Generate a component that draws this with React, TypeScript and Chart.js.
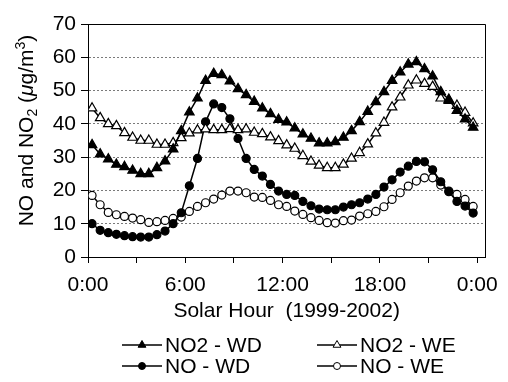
import React, { useEffect, useRef } from "react";
import { Chart, registerables } from "chart.js";

Chart.register(...registerables);

// Solar hour of each half-hourly mean (plotted at the middle of each 30-min slot)
const solarHours = [
  0.25, 0.75, 1.25, 1.75, 2.25, 2.75, 3.25, 3.75, 4.25, 4.75, 5.25, 5.75,
  6.25, 6.75, 7.25, 7.75, 8.25, 8.75, 9.25, 9.75, 10.25, 10.75, 11.25, 11.75,
  12.25, 12.75, 13.25, 13.75, 14.25, 14.75, 15.25, 15.75, 16.25, 16.75, 17.25, 17.75,
  18.25, 18.75, 19.25, 19.75, 20.25, 20.75, 21.25, 21.75, 22.25, 22.75, 23.25, 23.75,
];

const no2Weekday = [
  33.7, 30.9, 29.4, 27.8, 27.1, 26.0, 25.0, 25.0, 26.8, 28.8, 32.4, 37.9,
  43.5, 47.7, 53.0, 55.1, 54.7, 52.8, 50.5, 48.7, 46.7, 44.7, 43.0, 41.3,
  40.5, 38.7, 36.9, 35.6, 34.2, 34.2, 34.6, 35.9, 37.9, 40.6, 43.7, 46.6,
  49.6, 53.0, 55.5, 57.9, 58.6, 56.5, 54.3, 49.6, 47.3, 44.0, 41.4, 38.9,
];

const no2Weekend = [
  44.7, 41.8, 40.0, 39.4, 37.3, 35.9, 35.0, 35.0, 33.8, 33.8, 34.3, 35.8,
  37.2, 38.1, 38.4, 38.2, 38.2, 38.5, 38.2, 38.4, 37.4, 37.0, 36.0, 34.9,
  33.6, 32.6, 30.4, 28.7, 27.5, 26.8, 26.8, 27.8, 29.6, 31.3, 33.9, 37.2,
  40.4, 45.0, 48.0, 51.6, 53.1, 52.1, 51.2, 47.7, 47.0, 45.5, 43.4, 40.2,
];

const noWeekday = [
  10.0, 8.0, 7.3, 6.8, 6.4, 6.1, 6.0, 6.0, 6.7, 7.8, 10.0, 13.3,
  21.4, 29.6, 40.6, 46.0, 44.9, 41.5, 35.6, 29.6, 26.3, 24.3, 21.8, 19.8,
  18.8, 18.5, 16.7, 15.4, 14.4, 14.2, 14.2, 15.0, 15.7, 16.3, 17.4, 18.8,
  21.0, 23.2, 25.5, 27.3, 28.7, 28.6, 26.2, 22.6, 19.6, 16.7, 15.3, 13.2,
];

const noWeekend = [
  18.5, 15.7, 13.4, 12.7, 12.2, 11.7, 11.2, 10.4, 10.6, 11.0, 11.6, 12.0,
  13.7, 15.2, 16.3, 17.4, 18.6, 19.8, 19.8, 19.3, 18.0, 17.9, 17.0, 15.7,
  15.2, 13.8, 12.8, 11.8, 11.0, 10.3, 10.2, 10.9, 11.1, 12.3, 13.0, 13.7,
  15.1, 17.3, 19.3, 21.3, 22.8, 23.8, 23.8, 21.6, 19.8, 18.8, 17.3, 15.2,
];

const seriesNames = ["NO2 - WD", "NO2 - WE", "NO - WD", "NO - WE"];
const xTickHours = [0, 3, 6, 9, 12, 15, 18, 21, 24];
const xTickLabels = ["0:00", "", "6:00", "", "12:00", "", "18:00", "", "0:00"];
const yMin = 0;
const yMax = 70;
const yStep = 10;
const xTitle = "Solar Hour  (1999-2002)";

const FONT = '"Liberation Sans", Arial, Helvetica, sans-serif';
const FS = 21;

function drawMarker(ctx: CanvasRenderingContext2D, style: string, filled: boolean, x: number, y: number, r: number) {
  ctx.beginPath();
  if (style === "triangle") {
    const h = r * 1.5;
    const w = (r * Math.sqrt(3)) / 2;
    ctx.moveTo(x, y - r);
    ctx.lineTo(x + w, y - r + h);
    ctx.lineTo(x - w, y - r + h);
    ctx.closePath();
  } else {
    ctx.arc(x, y, r, 0, Math.PI * 2);
  }
  ctx.fillStyle = filled ? "#000" : "#fff";
  ctx.fill();
  ctx.lineWidth = 1;
  ctx.strokeStyle = "#000";
  ctx.stroke();
}

export default function App() {
  const ref = useRef<HTMLCanvasElement>(null);

  useEffect(() => {
    if (!ref.current) return;
    const toPts = (vals: number[]) => vals.map((y, i) => ({ x: solarHours[i], y }));
    const styles = [
      { pt: "triangle", filled: true },
      { pt: "triangle", filled: false },
      { pt: "circle", filled: true },
      { pt: "circle", filled: false },
    ];
    const seriesValues = [no2Weekday, no2Weekend, noWeekday, noWeekend];

    const datasets = seriesValues.map((vals, i) => ({
      label: seriesNames[i],
      data: toPts(vals),
      borderColor: "#000",
      borderWidth: 1.5,
      pointStyle: styles[i].pt,
      pointRadius: styles[i].pt === "triangle" ? 5.5 : 4,
      pointBackgroundColor: styles[i].filled ? "#000" : "#fff",
      pointBorderColor: "#000",
      pointBorderWidth: 1.2,
      tension: 0,
      fill: false,
    }));

    const framePlugin = {
      id: "frame",
      beforeDatasetsDraw(chart: any) {
        const { ctx, chartArea: a } = chart;
        ctx.save();
        ctx.strokeStyle = "#000";
        ctx.lineWidth = 1;
        ctx.beginPath();
        ctx.moveTo(a.left, Math.round(a.top) + 0.5);
        ctx.lineTo(Math.round(a.right) + 0.5, Math.round(a.top) + 0.5);
        ctx.lineTo(Math.round(a.right) + 0.5, a.bottom);
        ctx.stroke();
        ctx.restore();
      },
    };

    const yTitlePlugin = {
      id: "yTitle",
      afterDraw(chart: any) {
        const { ctx, chartArea: a } = chart;
        const base = `${FS}px ${FONT}`;
        const small = `${Math.round(FS * 0.65)}px ${FONT}`;
        const ital = `italic ${FS}px ${FONT}`;
        const parts = [
          { t: "NO and NO", f: base, dy: 0 },
          { t: "2", f: small, dy: 4 },
          { t: " (", f: base, dy: 0 },
          { t: "\u03bc", f: ital, dy: 0 },
          { t: "g/m", f: base, dy: 0 },
          { t: "3", f: small, dy: -8 },
          { t: ")", f: base, dy: 0 },
        ];
        ctx.save();
        let total = 0;
        const widths = parts.map((p) => {
          ctx.font = p.f;
          const w = ctx.measureText(p.t).width;
          total += w;
          return w;
        });
        const cy = (a.top + a.bottom) / 2 - 10;
        ctx.translate(33, cy);
        ctx.rotate(-Math.PI / 2);
        ctx.fillStyle = "#000";
        ctx.textBaseline = "alphabetic";
        ctx.textAlign = "left";
        let x = -total / 2;
        parts.forEach((p, i) => {
          ctx.font = p.f;
          ctx.fillText(p.t, x, p.dy);
          x += widths[i];
        });
        ctx.restore();
      },
    };

    const legendPlugin = {
      id: "customLegend",
      afterDraw(chart: any) {
        const { ctx } = chart;
        const colX = [122, 317];
        const rowY = [345, 366];
        ctx.save();
        seriesNames.forEach((name, i) => {
          const x0 = colX[i % 2];
          const y = rowY[Math.floor(i / 2)];
          ctx.strokeStyle = "#000";
          ctx.lineWidth = 1.5;
          ctx.beginPath();
          ctx.moveTo(x0, y);
          ctx.lineTo(x0 + 40, y);
          ctx.stroke();
          drawMarker(ctx, styles[i].pt, styles[i].filled, x0 + 20, y, styles[i].pt === "triangle" ? 4.5 : 3.5);
          ctx.fillStyle = "#000";
          ctx.font = `${FS}px ${FONT}`;
          ctx.textBaseline = "middle";
          ctx.textAlign = "left";
          ctx.fillText(name, x0 + 43, y + 1);
        });
        ctx.restore();
      },
    };

    const chart = new Chart(ref.current, {
      type: "line",
      data: { datasets: datasets as any },
      options: {
        animation: false,
        responsive: false,
        maintainAspectRatio: false,
        layout: { padding: { top: 24, right: 17, bottom: 0, left: 0 } },
        plugins: {
          legend: { display: false },
          tooltip: { enabled: false },
        },
        scales: {
          x: {
            type: "linear",
            min: 0,
            max: 24.5,
            afterBuildTicks(scale: any) {
              scale.ticks = xTickHours.map((v) => ({ value: v }));
            },
            afterFit(scale: any) {
              scale.height = 125;
            },
            ticks: {
              autoSkip: false,
              maxRotation: 0,
              minRotation: 0,
              padding: 10,
              color: "#000",
              font: { family: FONT, size: FS },
              callback: (v: any) => {
                const idx = xTickHours.indexOf(Number(v));
                return idx >= 0 ? xTickLabels[idx] : "";
              },
            },
            grid: {
              drawOnChartArea: false,
              drawTicks: true,
              tickLength: 6,
              tickColor: "#000",
              tickWidth: 1,
            },
            border: { display: true, color: "#000", width: 1 },
            title: {
              display: true,
              text: xTitle,
              color: "#000",
              font: { family: FONT, size: FS },
              padding: { top: 0, bottom: 58 },
            },
          },
          y: {
            type: "linear",
            min: yMin,
            max: yMax,
            afterFit(scale: any) {
              scale.width = 88;
            },
            ticks: {
              stepSize: yStep,
              padding: 5,
              color: "#000",
              font: { family: FONT, size: FS },
            },
            grid: {
              color: "#7a7a7a",
              lineWidth: 1,
              drawTicks: true,
              tickLength: 7,
              tickColor: "#000",
              tickWidth: 1,
              tickBorderDash: [],
            },
            border: { display: true, color: "#000", width: 1, dash: [2, 2] },
          },
        },
      },
      plugins: [framePlugin, yTitlePlugin, legendPlugin],
    });

    return () => chart.destroy();
  }, []);

  return (
    <div style={{ position: "fixed", left: 0, top: 0, width: 508, height: 382, background: "#fff" }}>
      <canvas ref={ref} width={508} height={382} style={{ width: 508, height: 382, display: "block" }} />
    </div>
  );
}
